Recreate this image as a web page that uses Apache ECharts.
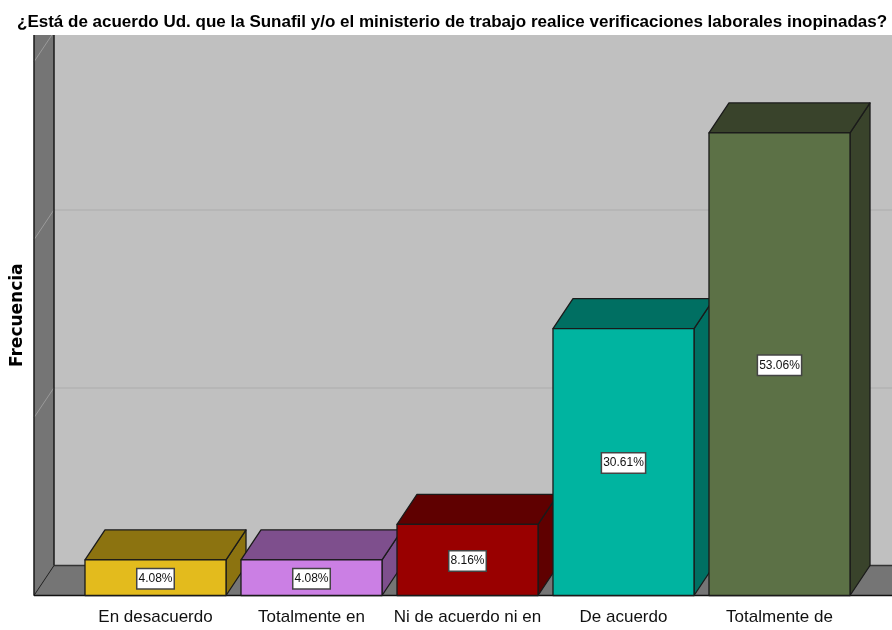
<!DOCTYPE html>
<html><head><meta charset="utf-8">
<style>html,body{margin:0;padding:0;background:#fff}#c{width:892px;height:630px}</style>
<script src="https://cdn.jsdelivr.net/npm/echarts@6/dist/echarts.min.js"></script>
</head><body><div id="c"></div>
<script>
const categories = ['En desacuerdo','Totalmente en','Ni de acuerdo ni en','De acuerdo','Totalmente de'];
const counts = [2,2,4,15,26];
const percentLabels = ['4.08%','4.08%','8.16%','30.61%','53.06%'];
const frontColors = ['#e3bb1d','#cb7fe4','#990000','#00b4a0','#5c7146'];
const shadeColors = ['#8c7310','#7e4f8d','#5f0000','#006f62','#39432b'];
const titleText = '¿Está de acuerdo Ud. que la Sunafil y/o el ministerio de trabajo realice verificaciones laborales inopinadas?';
const yName = 'Frecuencia';
const yMax = 29.82, yStep = 10;
const DX = 20, DY = 30;
const edge = '#1a1a1a', wall = '#757575';

function renderWalls(params, api){
  const o = api.coord([0,0]), t = api.coord([0,yMax]), r = api.coord([1,0]);
  const kids = [];
  const lx = o[0]-DX, by = o[1]+DY;
  kids.push({type:'polygon',shape:{points:[[lx,t[1]],[o[0],t[1]],[o[0],o[1]],[lx,by]]},style:{fill:wall,stroke:null}});
  kids.push({type:'polygon',shape:{points:[[lx,by],[o[0],o[1]],[r[0],o[1]],[r[0],by]]},style:{fill:wall,stroke:null}});
  for(let v=yStep;v<yMax+yStep;v+=yStep){
    const p = api.coord([0,v]);
    const sy = Math.max(p[1],t[1]);
    kids.push({type:'line',shape:{x1:o[0]-(sy-p[1])*DX/DY,y1:sy,x2:lx,y2:p[1]+DY},style:{stroke:'#9a9a9a',lineWidth:1}});
  }
  kids.push({type:'line',shape:{x1:lx,y1:t[1],x2:lx,y2:by},style:{stroke:edge,lineWidth:1.5}});
  kids.push({type:'line',shape:{x1:o[0],y1:t[1],x2:o[0],y2:o[1]},style:{stroke:edge,lineWidth:1.5}});
  kids.push({type:'line',shape:{x1:o[0],y1:o[1],x2:r[0],y2:o[1]},style:{stroke:'#333',lineWidth:1.5}});
  kids.push({type:'line',shape:{x1:o[0],y1:o[1],x2:lx,y2:by},style:{stroke:edge,lineWidth:1}});
  kids.push({type:'line',shape:{x1:lx,y1:by,x2:r[0],y2:by},style:{stroke:'#111',lineWidth:1.5}});
  return {type:'group',children:kids};
}
function renderBar(params, api){
  const i = api.value(0), v = api.value(1);
  const b = api.coord([i,0]), t = api.coord([i,v]);
  const w = api.size([1,0])[0]*0.904;
  const x0 = b[0]-w/2, x1 = b[0]+w/2, yb = b[1], yt = t[1];
  const ln = {stroke:edge,lineWidth:1.3,lineJoin:'round'};
  return {type:'group',children:[
    {type:'polygon',shape:{points:[[x1,yb],[x1,yt],[x1+DX,yt-DY],[x1+DX,yb-DY]]},style:Object.assign({fill:shadeColors[i]},ln)},
    {type:'polygon',shape:{points:[[x0,yt],[x0+DX,yt-DY],[x1+DX,yt-DY],[x1,yt]]},style:Object.assign({fill:shadeColors[i]},ln)},
    {type:'rect',shape:{x:x0,y:yt,width:w,height:yb-yt},style:Object.assign({fill:frontColors[i]},ln)},
    {type:'text',x:b[0],y:(yb+yt)/2+1,style:{text:percentLabels[i],align:'center',verticalAlign:'middle',
      font:'12px "Liberation Sans"',fill:'#111',backgroundColor:'#fff',borderColor:'#444',borderWidth:1.5,padding:[4,1,3,1]}}
  ]};
}
const chart = echarts.init(document.getElementById('c'),null,{renderer:'canvas'});
chart.setOption({
  animation:false,
  backgroundColor:'#fff',
  title:{text:titleText,left:17,top:14,padding:0,textStyle:{fontFamily:'Liberation Sans',fontWeight:'bold',fontSize:17,color:'#000'}},
  grid:[
    {left:54,top:35,width:838,height:530.5,show:true,backgroundColor:'#c0c0c0',borderWidth:0,outerBoundsMode:'none'},
    {left:77.5,top:65,width:780,height:530.5,show:false,outerBoundsMode:'none'}
  ],
  xAxis:[
    {gridIndex:0,type:'value',min:0,max:1,show:false},
    {gridIndex:1,type:'category',data:categories,axisLine:{show:false},axisTick:{show:false},
     axisLabel:{interval:0,margin:13,fontFamily:'Liberation Sans',fontSize:17,color:'#111'}}
  ],
  yAxis:[
    {gridIndex:0,type:'value',min:0,max:yMax,interval:yStep,axisLabel:{show:false},axisTick:{show:false},axisLine:{show:false},
     splitLine:{show:true,showMaxLine:false,lineStyle:{color:'#b6b6b6',width:2}},
     name:yName,nameLocation:'middle',nameGap:28,nameRotate:90,
     nameTextStyle:{fontFamily:'DejaVu Sans',fontWeight:'bold',fontSize:17,color:'#000',padding:[0,30,0,0]}},
    {gridIndex:1,type:'value',min:0,max:yMax,interval:yStep,show:false}
  ],
  series:[
    {type:'custom',xAxisIndex:0,yAxisIndex:0,z:1,silent:true,clip:false,renderItem:renderWalls,data:[[0,0]]},
    {type:'custom',xAxisIndex:1,yAxisIndex:1,z:2,clip:false,renderItem:renderBar,encode:{x:0,y:1},
     data:counts.map((c,i)=>[i,c])}
  ]
});
</script></body></html>
